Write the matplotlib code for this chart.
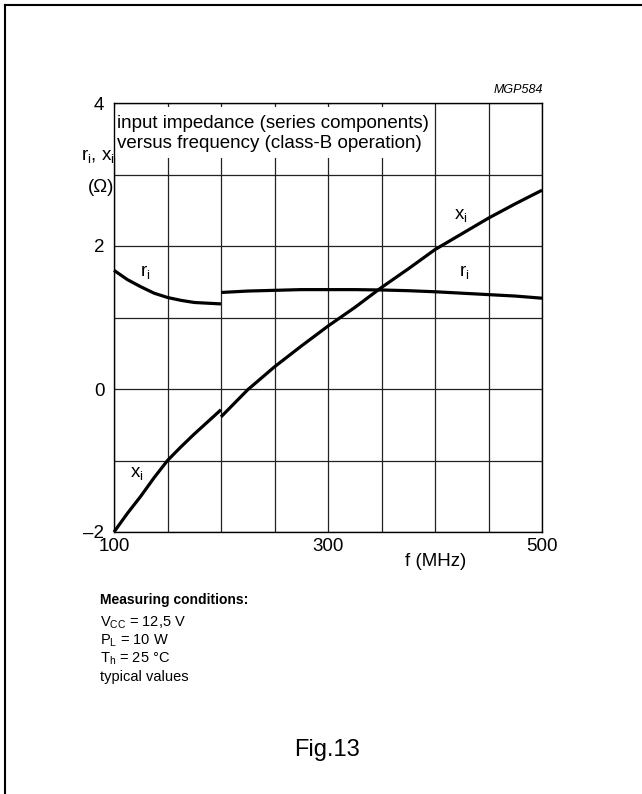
import matplotlib
matplotlib.use("Agg")
import matplotlib.pyplot as plt
from matplotlib.patches import Rectangle
from matplotlib.lines import Line2D

plt.rcParams['font.family'] = ['Liberation Sans', 'DejaVu Sans']

# ---- data ----
ri_f1 = [100, 112.5, 125, 137.5, 150, 162.5, 175, 187.5, 200]
ri_v1 = [1.66, 1.53, 1.43, 1.34, 1.28, 1.24, 1.21, 1.20, 1.19]
ri_f2 = [200, 225, 250, 275, 300, 325, 350, 375, 400, 425, 450, 475, 500]
ri_v2 = [1.35, 1.37, 1.38, 1.39, 1.39, 1.39, 1.385, 1.375, 1.36, 1.34, 1.32, 1.30, 1.27]
xi_f1 = [100, 112.5, 125, 137.5, 150, 162.5, 175, 187.5, 200]
xi_v1 = [-2.0, -1.74, -1.50, -1.24, -1.00, -0.81, -0.63, -0.46, -0.29]
xi_f2 = [200, 225, 250, 275, 300, 325, 350, 375, 400, 425, 450, 475, 500]
xi_v2 = [-0.39, -0.01, 0.31, 0.60, 0.88, 1.14, 1.42, 1.68, 1.95, 2.17, 2.39, 2.59, 2.78]

x_grid = [100, 150, 200, 250, 300, 350, 400, 450, 500]
x_labels = ['100', '', '', '', '300', '', '', '', '500']
y_grid = [-2, -1, 0, 1, 2, 3, 4]
y_labels = ['\u20132', '', '0', '', '2', '', '4']

FS = 13.5

fig = plt.figure(figsize=(6.42, 7.94), dpi=100)

# outer frame (top and left visible)
fig.add_artist(Line2D([5/642, 5/642], [0, 1 - 5/794], transform=fig.transFigure,
                      color='black', lw=1.5))
fig.add_artist(Line2D([5/642, 1], [1 - 5/794, 1 - 5/794], transform=fig.transFigure,
                      color='black', lw=1.5))

ax = fig.add_axes([114/642, 1 - 532/794, 428/642, 429/794])
ax.set_xlim(100, 500)
ax.set_ylim(-2, 4)
ax.set_xticks(x_grid)
ax.set_xticklabels(x_labels)
ax.set_yticks(y_grid)
ax.set_yticklabels(y_labels)
ax.tick_params(length=0, labelsize=FS, pad=7)
ax.tick_params(axis='x', pad=4)
ax.grid(True, color='#222222', lw=0.9)
for s in ax.spines.values():
    s.set_linewidth(1.0)
    s.set_color('black')

# white box behind title text
ax.add_patch(Rectangle((100.5, 3.23), 297, 0.71, facecolor='white', edgecolor='none', zorder=2.5))
ax.text(102.5, 3.71, 'input impedance (series components)', fontsize=FS, va='center', ha='left', zorder=3)
ax.text(102.5, 3.43, 'versus frequency (class-B operation)', fontsize=FS, va='center', ha='left', zorder=3)

lw = 2.3
ax.plot(ri_f1, ri_v1, color='black', lw=lw, zorder=4, solid_capstyle='butt')
ax.plot(ri_f2, ri_v2, color='black', lw=lw, zorder=4, solid_capstyle='butt')
ax.plot(xi_f1, xi_v1, color='black', lw=lw, zorder=4, solid_capstyle='butt')
ax.plot(xi_f2, xi_v2, color='black', lw=lw, zorder=4, solid_capstyle='butt')
for a in ax.lines:
    a.set_clip_on(False)

# curve labels
ax.text(129, 1.62, r'r$_\mathregular{i}$', fontsize=FS, ha='center', va='center')
ax.text(427, 1.62, r'r$_\mathregular{i}$', fontsize=FS, ha='center', va='center')
ax.text(121, -1.20, r'x$_\mathregular{i}$', fontsize=FS, ha='center', va='center')
ax.text(424, 2.42, r'x$_\mathregular{i}$', fontsize=FS, ha='center', va='center')

# axis labels
fig.text(98/642, 1 - 157/794, r'r$_\mathregular{i}$, x$_\mathregular{i}$', fontsize=FS, ha='center', va='center')
fig.text(101/642, 1 - 187/794, '(\u03a9)', fontsize=FS, ha='center', va='center')
fig.text(436/642, 1 - 561/794, 'f (MHz)', fontsize=FS, ha='center', va='center')
fig.text(543/642, 1 - 90/794, 'MGP584', fontsize=9, ha='right', va='center', style='italic')

# measuring conditions
MS = 10.5
fig.text(100/642, 1 - 600/794, 'Measuring conditions:', fontsize=10, fontweight='bold', ha='left', va='center')
fig.text(100/642, 1 - 623/794, r'V$_\mathregular{CC}$ = 12,5 V', fontsize=MS, ha='left', va='center')
fig.text(100/642, 1 - 641/794, r'P$_\mathregular{L}$ = 10 W', fontsize=MS, ha='left', va='center')
fig.text(100/642, 1 - 659/794, 'T$_\\mathregular{h}$ = 25 \u00b0C', fontsize=MS, ha='left', va='center')
fig.text(100/642, 1 - 677/794, 'typical values', fontsize=MS, ha='left', va='center')

fig.text(327/642, 1 - 750/794, 'Fig.13', fontsize=17, ha='center', va='center')

fig.savefig('out.png', dpi=100)
